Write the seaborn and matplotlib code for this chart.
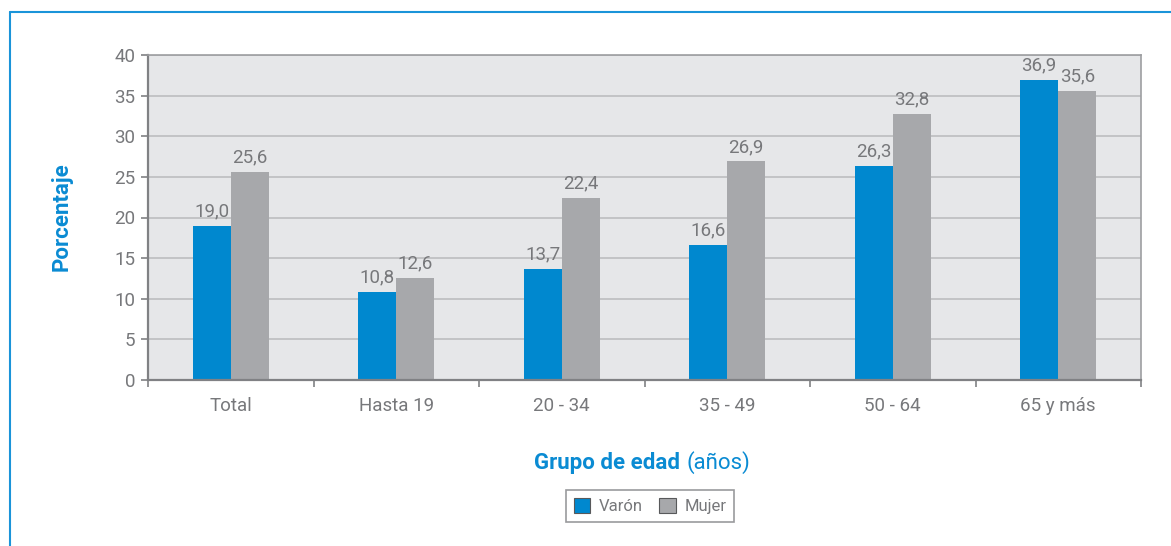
import matplotlib
matplotlib.use("Agg")
import matplotlib.pyplot as plt
from matplotlib.lines import Line2D
import seaborn as sns
import pandas as pd

grupos = ["Total", "Hasta 19", "20 - 34", "35 - 49", "50 - 64", "65 y más"]
varon = [19.0, 10.8, 13.7, 16.6, 26.3, 36.9]
mujer = [25.6, 12.6, 22.4, 26.9, 32.8, 35.6]
series = ["Varón", "Mujer"]
yticks = [0, 5, 10, 15, 20, 25, 30, 35, 40]

BLUE = "#0088cf"
GRAY = "#a7a8ab"
TEXT = "#77787b"
TITLE = "#0a8bd3"

df = pd.DataFrame({
    "grupo": grupos * 2,
    "serie": [series[0]] * len(grupos) + [series[1]] * len(grupos),
    "valor": varon + mujer,
})

sns.set_theme(style="white")
plt.rcParams["font.family"] = ["Roboto", "DejaVu Sans"]

fig = plt.figure(figsize=(11.71, 5.46), dpi=100)
ax = fig.add_axes([148 / 1171, 1 - 380 / 546, (1141 - 148) / 1171, (380 - 55) / 546])

sns.barplot(data=df, x="grupo", y="valor", hue="serie", order=grupos,
            hue_order=series, palette=[BLUE, GRAY], width=0.46,
            saturation=1, linewidth=0, ax=ax, legend=True)

ax.set_facecolor("#e6e7e9")
ax.set_ylim(0, 40)
ax.set_xlim(-0.5, len(grupos) - 0.5)
ax.set_yticks(yticks)
ax.set_yticklabels([str(v) for v in yticks])
ax.yaxis.grid(True, color="#bcbdc0", linewidth=1.2)
ax.set_axisbelow(True)

for s in ax.spines.values():
    s.set_visible(True)
    s.set_color("#9d9ea1")
    s.set_linewidth(1.2)
ax.spines["left"].set_color("#808184")
ax.spines["bottom"].set_color("#808184")
ax.spines["left"].set_linewidth(1.6)
ax.spines["bottom"].set_linewidth(1.6)

ax.tick_params(axis="y", which="major", left=True, length=5, width=1.2,
               color="#808184", labelcolor=TEXT, labelsize=13.5, pad=4)
ax.set_xticks(range(len(grupos)))
ax.set_xticklabels(grupos)
ax.tick_params(axis="x", which="major", bottom=False, labelcolor=TEXT,
               labelsize=13.5, pad=6)
ax.set_xticks([i - 0.5 for i in range(len(grupos) + 1)], minor=True)
ax.tick_params(axis="x", which="minor", bottom=True, length=5, width=1.2,
               color="#808184")

for cont in ax.containers:
    ax.bar_label(cont, labels=[f"{b.get_height():.1f}".replace(".", ",") for b in cont],
                 padding=4, color=TEXT, fontsize=13.5)

ax.set_xlabel("")
ax.set_ylabel("")
fig.text(62 / 1171, 1 - 217 / 546, "Porcentaje", color=TITLE, fontsize=16,
         fontweight="bold", rotation=90, ha="center", va="center")

fig.text(686 / 1171, 1 - 463 / 546, "Grupo de edad ", color=TITLE, fontsize=16,
         fontweight="bold", ha="right", va="center")
fig.text(686 / 1171, 1 - 463 / 546, "(años)", color=TITLE, fontsize=16,
         ha="left", va="center")

leg = ax.legend(loc="center", bbox_to_anchor=(650 / 1171, 1 - 506 / 546),
                bbox_transform=fig.transFigure, ncol=2, frameon=True,
                fancybox=False, fontsize=12, handlelength=1.0, handleheight=1.0,
                columnspacing=1.0, handletextpad=0.5, borderpad=0.45)
leg.get_frame().set_edgecolor("#808184")
leg.get_frame().set_linewidth(1.2)
for t in leg.get_texts():
    t.set_color(TEXT)
for h in leg.legend_handles:
    h.set_edgecolor("#58595b")
    h.set_linewidth(0.8)

# outer frame
fig.add_artist(Line2D([10 / 1171, 1], [1 - 12 / 546] * 2, color="#1a94d9",
                      linewidth=1.5, transform=fig.transFigure))
fig.add_artist(Line2D([10 / 1171] * 2, [0, 1 - 12 / 546], color="#1a94d9",
                      linewidth=1.5, transform=fig.transFigure))

fig.savefig("out.png", dpi=100)
